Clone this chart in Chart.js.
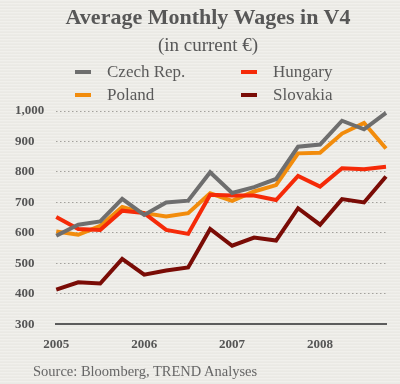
<!DOCTYPE html>
<html>
<head>
<meta charset="utf-8">
<script src="https://cdn.jsdelivr.net/npm/chart.js@4"></script>
<style>
  html, body { margin: 0; padding: 0; }
  body {
    width: 400px; height: 384px; overflow: hidden; position: relative;
    background-color: #ecebe6;
    background-image: repeating-linear-gradient(180deg, rgba(255,255,255,0.25) 0px, rgba(255,255,255,0.25) 1px, rgba(0,0,0,0.02) 2px, rgba(0,0,0,0) 3px);
    font-family: "Liberation Serif", "DejaVu Serif", serif;
    color: #555;
  }
  #wrap { position: absolute; left: 0; top: 0; width: 400px; height: 384px; }
  .txt { position: absolute; white-space: nowrap; }
  #title { left: 0; width: 416px; top: 4px; text-align: center; font-weight: bold; font-size: 22px; color: #575757; }
  #sub { left: 0; width: 416px; top: 34px; text-align: center; font-size: 19px; color: #575757; }
  .leg { position: absolute; font-size: 17px; color: #5a5a5a; line-height: 20px; }
  .leg i { position: absolute; left: -32px; top: 8px; width: 16px; height: 4px; }
  #source { left: 33px; top: 363px; font-size: 14.5px; color: #666; }
</style>
</head>
<body>
<div id="wrap"><canvas id="wages-chart" width="400" height="384"></canvas></div>
<div class="txt" id="title">Average Monthly Wages in V4</div>
<div class="txt" id="sub">(in current €)</div>
<div id="legend"></div>
<div class="txt" id="source">Source: Bloomberg, TREND Analyses</div>
<script>
// quarterly points, 2005 Q1 .. 2008 Q4
const quarters = ['2005', '', '', '', '2006', '', '', '', '2007', '', '', '', '2008', '', '', ''];
const yTicks = [300, 400, 500, 600, 700, 800, 900, 1000];

const czech    = [591, 627, 638, 712, 659, 700, 706, 799, 731, 750, 777, 883, 890, 968, 940, 994];
const poland   = [605, 594, 623, 685, 665, 654, 665, 730, 705, 736, 757, 861, 863, 926, 961, 877];
const hungary  = [652, 613, 610, 673, 665, 610, 597, 725, 723, 723, 708, 787, 752, 812, 809, 817];
const slovakia = [414, 438, 434, 515, 463, 477, 487, 613, 558, 585, 575, 681, 627, 711, 700, 785];

const seriesNames = ['Czech Rep.', 'Hungary', 'Poland', 'Slovakia'];
const seriesColors = ['#6e6e6e', '#f52a08', '#f28c0c', '#7a0c06'];

// legend laid out in two columns like the original
const legendSpots = [[107, 62], [273, 62], [107, 85], [273, 85]];
const legendBox = document.getElementById('legend');
seriesNames.forEach((name, i) => {
  const d = document.createElement('div');
  d.className = 'leg';
  d.style.left = legendSpots[i][0] + 'px';
  d.style.top = legendSpots[i][1] + 'px';
  d.innerHTML = '<i style="background:' + seriesColors[i] + '"></i>' + name;
  legendBox.appendChild(d);
});

const allSeries = [czech, hungary, poland, slovakia];
const datasets = allSeries.map((vals, i) => ({
  label: seriesNames[i],
  data: vals,
  borderColor: seriesColors[i],
  backgroundColor: seriesColors[i],
  borderWidth: 4,
  pointRadius: 0,
  tension: 0,
  borderJoinStyle: 'miter',
  fill: false,
}));

const axisFont = { family: '"Liberation Serif", serif', size: 13, weight: 'bold' };

new Chart(document.getElementById('wages-chart').getContext('2d'), {
  type: 'line',
  data: { labels: quarters, datasets: datasets },
  options: {
    responsive: false,
    animation: false,
    layout: { padding: { top: 111, left: 15, right: 14, bottom: 20 } },
    plugins: { legend: { display: false }, tooltip: { enabled: false } },
    scales: {
      x: {
        offset: false,
        grid: { display: false, drawTicks: false },
        border: { display: true, color: '#5c5c5c', width: 2 },
        ticks: {
          autoSkip: false, maxRotation: 0, padding: 12,
          color: '#555', font: axisFont,
        },
      },
      y: {
        min: 300,
        max: 1000,
        afterBuildTicks: (axis) => { axis.ticks = yTicks.map(v => ({ value: v })); },
        grid: {
          drawTicks: false,
          color: (ctx) => ctx.tick && ctx.tick.value === 300 ? 'rgba(0,0,0,0)' : '#a3a19c',
          lineWidth: 1,
        },
        border: { display: false, dash: [1.5, 2.5] },
        ticks: {
          crossAlign: 'far', padding: 6,
          color: '#555', font: axisFont,
          callback: (v) => v.toLocaleString('en-US'),
        },
      },
    },
  },
});
</script>
</body>
</html>
